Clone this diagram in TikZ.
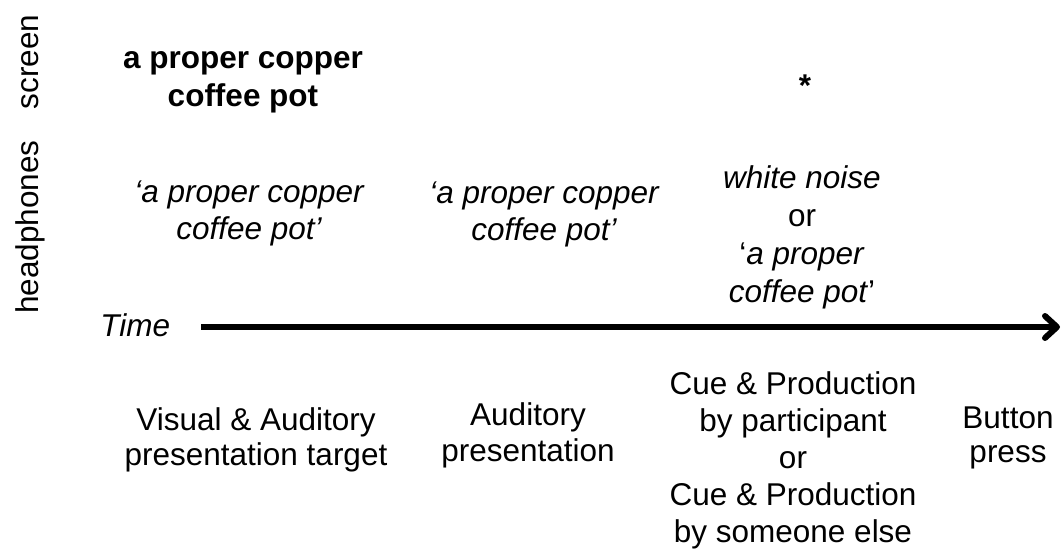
\documentclass[tikz,border=0pt]{standalone}
\usepackage{fontspec}
\setmainfont{Liberation Sans}
\usetikzlibrary{arrows.meta}
\begin{document}
\begin{tikzpicture}[x=0.5pt,y=-0.5pt,
  lbl/.style={inner sep=0pt, align=center, anchor=base, font=\fontsize{15.75}{18.5}\selectfont},
  side/.style={lbl, rotate=90},
  timeline/.style={line width=3pt, -{Straight Barb[length=6pt, width=11pt, round]}}]
\useasboundingbox (0,0) rectangle (1062,551);
% side labels
\node[side] (screen) at (39,62) {screen};
\node[side] (phones) at (39,227) {headphones};
% screen row
\node[lbl, font=\fontsize{15.75}{19}\selectfont\bfseries] (scr1) at (243,107) {a proper copper\\coffee pot};
\node[lbl, font=\fontsize{15.75}{19}\selectfont\bfseries] (scr3) at (805,97) {*};
% headphones row
\node[lbl, font=\fontsize{15.75}{18.5}\selectfont\itshape] (hp1) at (249,240) {‘a proper copper\\coffee pot’};
\node[lbl, font=\fontsize{15.75}{18.5}\selectfont\itshape] (hp2) at (544,241) {‘a proper copper\\coffee pot’};
\node[lbl, font=\fontsize{15.75}{19.15}\selectfont] (hp3) at (802,303) {\itshape white noise\\or\\‘\textit{a proper}\\\textit{coffee pot}’};
% time axis
\node[lbl, anchor=base west, font=\fontsize{15.75}{18.5}\selectfont\itshape] (time) at (100,336) {Time};
\coordinate (tstart) at (201,327);
\coordinate (tend) at (1060,327);
\draw[timeline] (tstart) -- (tend);
% phases
\node[lbl, font=\fontsize{15.75}{17.5}\selectfont] (ph1) at (256,466) {Visual \& Auditory\\presentation target};
\node[lbl, font=\fontsize{15.75}{17.8}\selectfont] (ph2) at (528,461) {Auditory\\presentation};
\node[lbl, font=\fontsize{15.75}{18.4}\selectfont] (ph3) at (793,542) {Cue \& Production\\by participant\\or\\Cue \& Production\\by someone else};
\node[lbl, font=\fontsize{15.75}{17}\selectfont] (ph4) at (1008,462) {Button\\press};
\end{tikzpicture}
\end{document}
